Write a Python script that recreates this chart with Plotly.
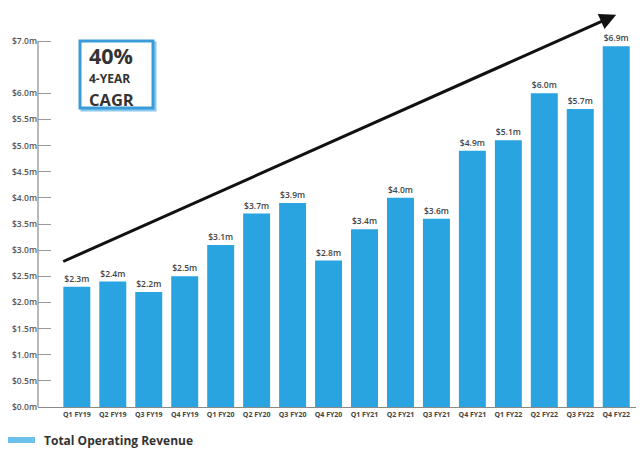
import plotly.graph_objects as go

# Quarterly total operating revenue, $ millions
quarters = ["Q1 FY19", "Q2 FY19", "Q3 FY19", "Q4 FY19",
            "Q1 FY20", "Q2 FY20", "Q3 FY20", "Q4 FY20",
            "Q1 FY21", "Q2 FY21", "Q3 FY21", "Q4 FY21",
            "Q1 FY22", "Q2 FY22", "Q3 FY22", "Q4 FY22"]
revenue = [2.3, 2.4, 2.2, 2.5,
           3.1, 3.7, 3.9, 2.8,
           3.4, 4.0, 3.6, 4.9,
           5.1, 6.0, 5.7, 6.9]

# Y-axis ticks
tick_vals = [0.0, 0.5, 1.0, 1.5, 2.0, 2.5, 3.0, 3.5, 4.0, 4.5, 5.0, 5.5, 6.0, 7.0]
tick_text = ["$0.0m", "$0.5m", "$1.0m", "$1.5m", "$2.0m", "$2.5m", "$3.0m",
             "$3.5m", "$4.0m", "$4.5m", "$5.0m", "$5.5m", "$6.0m", "$7.0m"]

BAR_BLUE = "#29A4E1"
TEXT_DARK = "#333333"
FONT = "Open Sans"

W, H = 642, 452
L, R, T, B = 38, 6, 10, 45
PW, PH = W - L - R, H - T - B


def px(x):
    return (x - L) / PW


def py(y):
    return (H - B - y) / PH


fig = go.Figure()
fig.add_trace(go.Bar(
    x=list(range(len(quarters))),
    y=revenue,
    marker=dict(color=BAR_BLUE, line=dict(width=0)),
    text=[f"${v:.1f}m" for v in revenue],
    textposition="outside",
    textfont=dict(family=FONT, size=8.5, color="#444444", weight=600),
    cliponaxis=False,
    showlegend=False,
))

shapes = [
    # vertical axis line up to the top tick
    dict(type="line", xref="paper", yref="y", x0=0, x1=0, y0=0, y1=7.0,
         line=dict(color="#8a8a8a", width=1.2)),
    # CAGR callout box with offset edge
    dict(type="rect", xref="paper", yref="paper",
         x0=px(82), x1=px(155), y0=py(110), y1=py(43),
         line=dict(color="#8CC9EE", width=3), fillcolor="rgba(0,0,0,0)"),
    dict(type="rect", xref="paper", yref="paper",
         x0=px(80), x1=px(153), y0=py(108), y1=py(41),
         line=dict(color="#3A9BDB", width=3), fillcolor="white"),
    # legend swatch
    dict(type="rect", xref="paper", yref="paper",
         x0=px(8), x1=px(35), y0=py(443), y1=py(437),
         line=dict(width=0), fillcolor="#6CC0EC"),
]


def box_text(text, y, size):
    return dict(x=px(88), y=py(y), xref="paper", yref="paper", text=text,
                showarrow=False, xanchor="left", yanchor="middle",
                borderpad=0,
                font=dict(family=FONT, size=size, color=TEXT_DARK,
                          weight="bold"))


annotations = [
    # growth trend arrow
    dict(x=15.0, y=7.5, ax=-0.42, ay=2.77, xref="x", yref="y",
         axref="x", ayref="y", text="", showarrow=True,
         arrowhead=2, arrowsize=1.1, arrowwidth=3, arrowcolor="#111111"),
    box_text("40%", 55.0, 21.5),
    box_text("4-YEAR", 78.5, 12),
    box_text("CAGR", 99.5, 16.5),
    dict(x=px(42), y=py(440), xref="paper", yref="paper",
         text="Total Operating Revenue", showarrow=False,
         xanchor="left", yanchor="middle",
         font=dict(family=FONT, size=12, color=TEXT_DARK, weight="bold")),
]

y_top = (H - B - T) / ((H - B - 41) / 7.0)

fig.update_layout(
    width=W, height=H,
    margin=dict(l=L, r=R, t=T, b=B),
    paper_bgcolor="white", plot_bgcolor="white",
    bargap=0.25,
    shapes=shapes,
    annotations=annotations,
    xaxis=dict(
        range=[-1.08, 15.55],
        tickmode="array",
        tickvals=list(range(len(quarters))),
        ticktext=quarters,
        tickfont=dict(family=FONT, size=7, color="#444444", weight="bold"),
        showline=True, linecolor="#8a8a8a", linewidth=1.2,
        showgrid=False, zeroline=False, ticks="", ticklabelstandoff=0,
    ),
    yaxis=dict(
        range=[0, y_top],
        tickmode="array",
        tickvals=tick_vals,
        ticktext=tick_text,
        tickfont=dict(family=FONT, size=8.5, color="#555555", weight=600),
        ticks="inside", ticklen=13, tickcolor="#9a9a9a", tickwidth=1,
        showline=False, showgrid=False, zeroline=False,
    ),
)

fig.write_html("out.html")
